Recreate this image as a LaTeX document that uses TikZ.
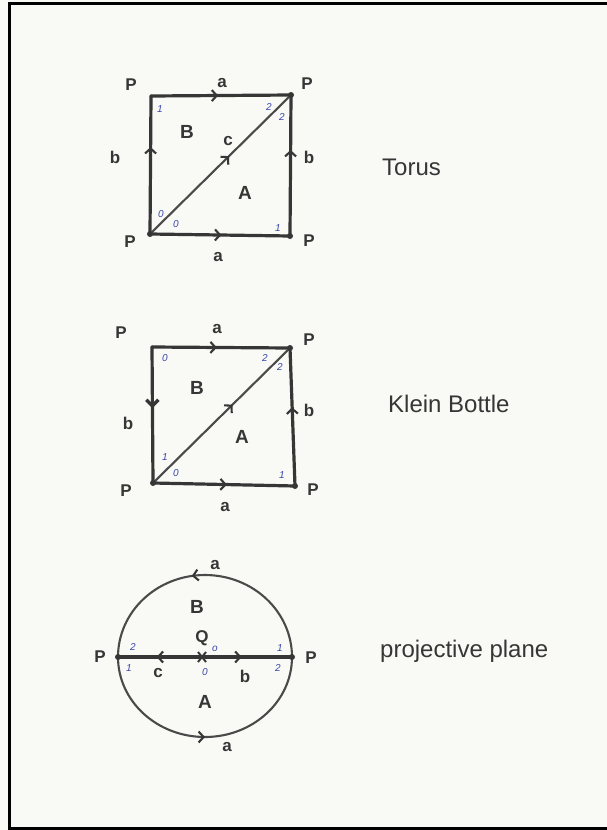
\documentclass[tikz,border=0pt]{standalone}
\usepackage{fontspec}
\setmainfont{Liberation Sans}
\usetikzlibrary{arrows.meta,decorations.markings}
\definecolor{ink}{HTML}{363636}
\definecolor{paper}{HTML}{F9F9F6}
\definecolor{blu}{HTML}{3A46A8}
\begin{document}
\begin{tikzpicture}[x=1pt,y=-1pt,
  edge/.style={draw=ink, line width=3.2pt, line cap=round},
  thin edge/.style={draw=ink!90, line width=2.1pt, line cap=round},
  midarrow/.style={postaction={decorate}, decoration={markings, mark=at position #1 with {\arrow[ink]{Straight Barb[length=5pt,width=11pt,line width=2.1pt]}}}},
  boldarrow/.style={postaction={decorate}, decoration={markings, mark=at position #1 with {\arrow[ink]{Straight Barb[length=6pt,width=12pt,line width=3.4pt]}}}},
  lab/.style={font=\fontsize{17}{17}\selectfont\bfseries, text=ink, inner sep=0},
  face/.style={font=\fontsize{19}{19}\selectfont\bfseries, text=ink, inner sep=0},
  num/.style={font=\fontsize{10}{10}\selectfont\itshape, text=blu, inner sep=0},
  title/.style={font=\fontsize{24}{24}\selectfont, text=ink, inner sep=0, anchor=base west},
  dot/.style={circle, fill=ink, inner sep=0, minimum size=6pt}
]
\fill[paper] (0,0) rectangle (607,830);
\useasboundingbox (0,0) rectangle (607,830);
\draw[black, line width=3pt] (607,3) -- (9,3) -- (9,828) -- (607,828);

% ---------- Torus ----------
\coordinate (t00) at (150,234);
\coordinate (t10) at (290,236);
\coordinate (t01) at (151,96);
\coordinate (t11) at (291,95);
\draw[edge, midarrow=0.51] (t00) -- (t10);
\draw[edge, midarrow=0.48] (t01) -- (t11);
\draw[edge, midarrow=0.63] (t00) -- (t01);
\draw[edge, midarrow=0.61] (t10) -- (t11);
\draw[thin edge, midarrow=0.56] (t00) -- (t11);
\node[dot] (td1) at (t00) {};
\node[dot] (td2) at (t10) {};
\node[dot] (td3) at (t11) {};
\node[lab] (tP1) at (131,85) {P};
\node[lab] (ta1) at (222,83) {a};
\node[lab] (tP2) at (307,84) {P};
\node[lab] (tb1) at (115,157) {b};
\node[lab] (tb2) at (309,157) {b};
\node[face] (tB) at (187,132) {B};
\node[lab] (tc) at (228,141) {c};
\node[face] (tA) at (245,193) {A};
\node[lab] (tP3) at (130,242) {P};
\node[lab] (ta2) at (218,257) {a};
\node[lab] (tP4) at (309,241) {P};
\node[num] at (160,109) {1};
\node[num] at (269,107) {2};
\node[num] at (282,117) {2};
\node[num] at (161,214) {0};
\node[num] at (176,224) {0};
\node[num] at (278,228) {1};
\node[title] (tt) at (382,175) {Torus};

% ---------- Klein bottle ----------
\coordinate (k00) at (153,483);
\coordinate (k10) at (295,486);
\coordinate (k01) at (152,347);
\coordinate (k11) at (290,348);
\draw[edge, midarrow=0.52] (k00) -- (k10);
\draw[edge, midarrow=0.47] (k01) -- (k11);
\draw[edge, boldarrow=0.45] (k01) -- (k00);
\draw[edge, midarrow=0.57] (k10) -- (k11);
\draw[thin edge, midarrow=0.58] (k00) -- (k11);
\node[dot] (kd1) at (k00) {};
\node[dot] (kd2) at (k10) {};
\node[dot] (kd3) at (k11) {};
\node[lab] (kP1) at (121,333) {P};
\node[lab] (ka1) at (217,329) {a};
\node[lab] (kP2) at (309,340) {P};
\node[lab] (kb1) at (128,423) {b};
\node[lab] (kb2) at (309,410) {b};
\node[face] (kB) at (197,388) {B};
\node[face] (kA) at (242,437) {A};
\node[lab] (kP3) at (126,491) {P};
\node[lab] (ka2) at (225,507) {a};
\node[lab] (kP4) at (313,490) {P};
\node[num] at (165,358) {0};
\node[num] at (265,358) {2};
\node[num] at (280,367) {2};
\node[num] at (165,457) {1};
\node[num] at (176,473) {0};
\node[num] at (282,475) {1};
\node[title] (kt) at (388,412) {Klein Bottle};

% ---------- projective plane ----------
\coordinate (pL) at (118,657);
\coordinate (pR) at (292,657);
\coordinate (Q) at (202,657);
\draw[thin edge, midarrow=0.55] (pR) arc[start angle=0, end angle=-180, x radius=87, y radius=82];
\draw[thin edge, midarrow=0.5] (pL) arc[start angle=180, end angle=0, x radius=87, y radius=80];
\draw[edge, line width=3.6pt, midarrow=0.54] (Q) -- (pL);
\draw[edge, line width=3.6pt, midarrow=0.44] (Q) -- (pR);
\draw[ink, line width=2pt] (Q) +(-4,-5) -- +(4,5);
\draw[ink, line width=2pt] (Q) +(-4,5) -- +(4,-5);
\node[dot] (pd1) at (pL) {};
\node[dot] (pd2) at (pR) {};
\node[lab] (pP1) at (100,657) {P};
\node[lab] (pP2) at (311,658) {P};
\node[lab] (pa1) at (215,565) {a};
\node[face] (pB) at (197,607) {B};
\node[lab] (pQ) at (202,638) {Q};
\node[num] at (215,649) {o};
\node[num] at (133,647) {2};
\node[num] at (280,648) {1};
\node[num] at (129,668) {1};
\node[lab] (pc) at (158,673) {c};
\node[num] at (205,672) {0};
\node[lab] (pb) at (245,676) {b};
\node[num] at (278,668) {2};
\node[face] (pA) at (205,702) {A};
\node[lab] (pa2) at (227,747) {a};
\node[title] (pt) at (380,657) {projective plane};
\end{tikzpicture}
\end{document}
